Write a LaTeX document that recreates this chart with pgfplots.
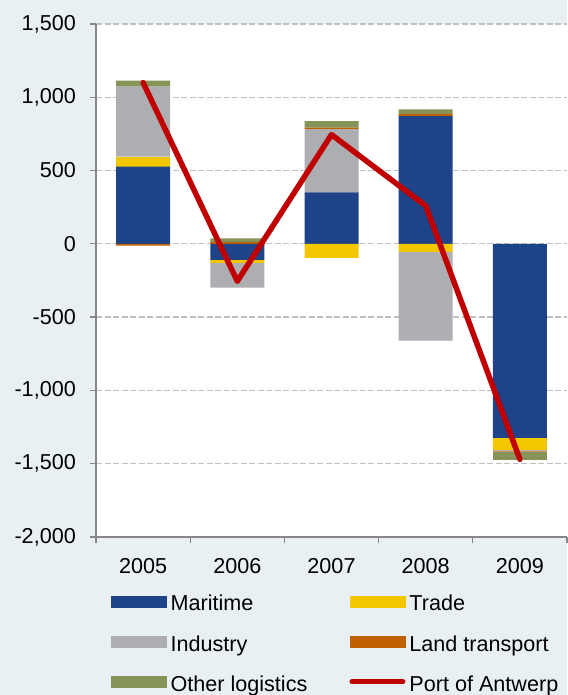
\documentclass[border=0pt]{standalone}
\usepackage{fontspec}
\setmainfont{Liberation Sans}
\usepackage{pgfplots}
\pgfplotsset{compat=1.18}
\definecolor{bg}{HTML}{E9F0F4}
\definecolor{maritime}{HTML}{1F4388}
\definecolor{trade}{HTML}{F2C700}
\definecolor{industry}{HTML}{ADAEB2}
\definecolor{land}{HTML}{C06000}
\definecolor{other}{HTML}{86945A}
\definecolor{linered}{HTML}{C00000}
\definecolor{axisgray}{HTML}{868686}
\definecolor{gridgray}{HTML}{C0C0C0}
\begin{document}
\begin{tikzpicture}[x=1pt,y=1pt]
\fill[bg] (0,0) rectangle (567,695);
\pgfplotsset{base/.style={width=471pt,height=513pt,scale only axis,
  at={(96pt,158pt)},anchor=south west,
  xmin=0.5,xmax=5.5,ymin=-2000,ymax=1500,enlargelimits=false},
  lab/.style={font=\fontsize{21.6}{26}\selectfont}}
% axis 1: frame, grid, positive parts of the stacks
\begin{axis}[base,
  axis background/.style={fill=white},
  ybar stacked, bar width=54pt,
  axis x line*=bottom, axis y line*=left,
  axis line style={draw=axisgray, line width=1.3pt, -},
  ytick={-2000,-1500,...,1500},
  yticklabels={{-2,000},{-1,500},{-1,000},-500,0,500,{1,000},{1,500}},
  xtick={0.5,1.5,...,5.5}, xticklabels={},
  extra x ticks={1,2,3,4,5},
  extra x tick labels={2005,2006,2007,2008,2009},
  extra x tick style={major tick length=0pt, grid=none},
  tick align=outside, major tick length=6pt,
  tick style={draw=axisgray, line width=1.3pt},
  tick label style={lab},
  yticklabel style={inner sep=0pt, anchor=east, xshift=-14pt},
  xticklabel style={inner sep=0pt, anchor=north, yshift=-21pt},
  ymajorgrids,
  grid style={draw=gridgray, line width=1.3pt, dash pattern=on 6pt off 2.5pt},
]
\addplot[fill=maritime, draw=none] coordinates {(1,527) (2,0) (3,351) (4,872) (5,0)};
\addplot[fill=trade, draw=none] coordinates {(1,68) (2,0) (3,0) (4,0) (5,0)};
\addplot[fill=industry, draw=none] coordinates {(1,477) (2,0) (3,431) (4,0) (5,0)};
\addplot[fill=land, draw=none] coordinates {(1,0) (2,11) (3,11) (4,15) (5,0)};
\addplot[fill=other, draw=none] coordinates {(1,41) (2,27) (3,45) (4,30) (5,0)};
\end{axis}
% axis 2: negative parts of the stacks
\begin{axis}[base, hide axis, ybar stacked, bar width=54pt]
\addplot[fill=maritime, draw=none] coordinates {(1,0) (2,-109) (3,0) (4,0) (5,-1324)};
\addplot[fill=trade, draw=none] coordinates {(1,0) (2,-20) (3,-95) (4,-54) (5,-81)};
\addplot[fill=industry, draw=none] coordinates {(1,0) (2,-170) (3,0) (4,-606) (5,-8)};
\addplot[fill=land, draw=none] coordinates {(1,-12) (2,0) (3,0) (4,0) (5,-5)};
\addplot[fill=other, draw=none] coordinates {(1,0) (2,0) (3,0) (4,0) (5,-54)};
\end{axis}
% axis 3: Port of Antwerp line and legend
\begin{axis}[base, hide axis,
  legend columns=2, legend cell align=left,
  legend style={at={(axis description cs:0.0318,-0.1139)}, anchor=north west,
    draw=none, fill=none, inner sep=0pt, row sep=20pt, lab,
    nodes={inner sep=0pt, text height=15pt, text depth=5pt},
    /tikz/every odd column/.style={column sep=4pt},
    /tikz/every even column/.style={column sep=42pt}},
]
\addlegendimage{legend image code/.code={\fill[maritime] (0pt,-1pt) rectangle (55pt,10pt);}}
\addlegendimage{legend image code/.code={\fill[trade] (0pt,-1pt) rectangle (55pt,10pt);}}
\addlegendimage{legend image code/.code={\fill[industry] (0pt,-1pt) rectangle (55pt,10pt);}}
\addlegendimage{legend image code/.code={\fill[land] (0pt,-1pt) rectangle (55pt,10pt);}}
\addlegendimage{legend image code/.code={\fill[other] (0pt,-1pt) rectangle (55pt,10pt);}}
\addplot[color=linered, line width=5.5pt, line cap=round, line join=round,
  legend image code/.code={\draw[linered, line width=5pt, line cap=round] (2pt,4.5pt) -- (53pt,4.5pt);}]
  coordinates {(1,1100) (2,-255) (3,745) (4,260) (5,-1470)};
\legend{Maritime, Trade, Industry, Land transport, Other logistics, Port of Antwerp}
\end{axis}
\pgfresetboundingbox
\path (0,0) rectangle (567,695);
\end{tikzpicture}
\end{document}
